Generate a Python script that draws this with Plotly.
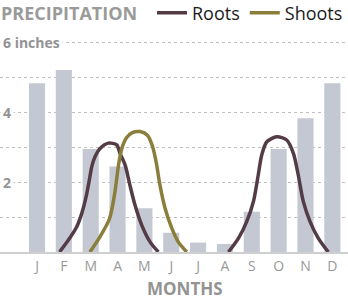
import plotly.graph_objects as go

months = ["J", "F", "M", "A", "M", "J", "J", "A", "S", "O", "N", "D"]
precip = [4.82, 5.2, 2.94, 2.44, 1.25, 0.55, 0.27, 0.23, 1.15, 2.94, 3.82, 4.82]

roots1_x = [0.84, 1.17, 1.48, 1.67, 1.83, 1.95, 2.04, 2.16, 2.35, 2.66, 2.97, 3.09, 3.28, 3.46, 3.65, 3.90, 4.21, 4.52]
roots1_y = [0.0, 0.34, 0.72, 1.11, 1.58, 2.06, 2.44, 2.72, 2.96, 3.11, 3.06, 2.82, 2.49, 1.91, 1.34, 0.77, 0.29, 0.0]

shoots_x = [1.97, 2.35, 2.70, 2.90, 3.03, 3.16, 3.34, 3.55, 3.84, 4.12, 4.31, 4.45, 4.58, 4.77, 5.02, 5.26, 5.58]
shoots_y = [0.0, 0.44, 0.95, 1.70, 2.45, 2.96, 3.27, 3.41, 3.44, 3.33, 3.00, 2.52, 1.91, 1.25, 0.68, 0.29, 0.0]

roots2_x = [7.13, 7.50, 7.81, 8.06, 8.24, 8.37, 8.56, 8.93, 9.30, 9.55, 9.73, 9.92, 10.17, 10.48, 10.85]
roots2_y = [0.0, 0.39, 0.87, 1.44, 2.20, 2.77, 3.15, 3.29, 3.20, 2.82, 2.20, 1.44, 0.87, 0.39, 0.0]

ylabels = {6: "6 inches", 4: "4", 2: "2"}

ROOT = "#543c47"
SHOOT = "#8a7e3a"
GRAY = "#939393"
FONT = "Open Sans"

x_idx = list(range(len(months)))

fig = go.Figure()
fig.add_trace(go.Bar(x=x_idx, y=precip, marker=dict(color="#c4c8d2", line=dict(width=0)),
                     width=0.6, showlegend=False, hoverinfo="skip"))
line_style = dict(width=3.5, shape="spline", smoothing=0.8)
fig.add_trace(go.Scatter(x=roots1_x, y=roots1_y, mode="lines", name="Roots",
                         line=dict(color=ROOT, **line_style)))
fig.add_trace(go.Scatter(x=shoots_x, y=shoots_y, mode="lines", name="Shoots",
                         line=dict(color=SHOOT, **line_style)))
fig.add_trace(go.Scatter(x=roots2_x, y=roots2_y, mode="lines", name="Roots", showlegend=False,
                         line=dict(color=ROOT, **line_style)))

annotations = []
for v, t in ylabels.items():
    annotations.append(dict(x=0, xref="paper", y=v, yref="y", text=t, showarrow=False,
                            xanchor="left", yanchor="middle", bgcolor="white", borderpad=2,
                            font=dict(family=FONT, size=14, color=GRAY, weight="bold")))
annotations.append(dict(x=0, xref="paper", y=1.1887, yref="paper", text="PRECIPITATION", showarrow=False,
                        xanchor="left", yanchor="top", borderpad=0,
                        font=dict(family=FONT, size=18, color="#9a9a9a", weight="bold")))
annotations.append(dict(x=5.5, xref="x", y=-0.1745, yref="paper", text="MONTHS", showarrow=False,
                        xanchor="center", yanchor="middle",
                        font=dict(family=FONT, size=17, color=GRAY, weight="bold")))

fig.update_layout(
    width=348, height=301,
    margin=dict(l=0, r=0, t=40, b=49, autoexpand=False),
    plot_bgcolor="white", paper_bgcolor="white",
    xaxis=dict(range=[-1.378, 11.583], tickvals=x_idx, ticktext=months,
               tickfont=dict(family=FONT, size=14, color="#999999"),
               showgrid=False, zeroline=False, showline=True, linecolor="#cfcfcf", linewidth=2,
               ticks="", fixedrange=True),
    yaxis=dict(range=[0, 6.057], tickvals=[1, 2, 3, 4, 5, 6], showticklabels=False,
               showgrid=True, gridcolor="#c0c0c0", griddash="dot", gridwidth=1,
               zeroline=False, showline=False, fixedrange=True),
    legend=dict(orientation="h", xref="container", yref="container", x=1.0, y=0.957,
                xanchor="right", yanchor="middle",
                font=dict(family=FONT, size=18, color="#1a1a1a", weight=500),
                itemwidth=30, bgcolor="rgba(0,0,0,0)"),
    annotations=annotations,
    showlegend=True,
)

fig.write_html("out.html")
